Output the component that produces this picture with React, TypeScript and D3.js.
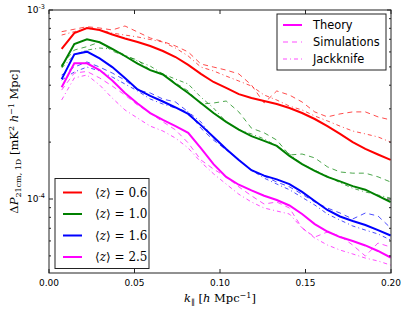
import React from 'react';
import * as d3 from 'd3';

// k_parallel bins [h/Mpc]
const kPar = [
  0.0074, 0.0148, 0.0222, 0.0296, 0.037, 0.0444, 0.0518, 0.0592, 0.0666,
  0.074, 0.0814, 0.0888, 0.0962, 0.1036, 0.111, 0.1184, 0.1258, 0.1332,
  0.1406, 0.148, 0.1554, 0.1628, 0.1702, 0.1776, 0.185, 0.1924, 0.1998,
];

// all values in units of 1e-4 mK^2 h^-1 Mpc
const theoryZ06 = [6.22, 7.55, 8.03, 7.84, 7.42, 7.07, 6.77, 6.45, 6.07, 5.64, 5.12, 4.59, 4.16, 3.87, 3.59, 3.42, 3.3, 3.18, 3.03, 2.85, 2.65, 2.43, 2.21, 2.0, 1.84, 1.72, 1.61];
const simZ06 = [7.68, 7.91, 8.16, 8.03, 7.84, 8.23, 7.65, 7.11, 6.81, 6.45, 6.0, 5.18, 4.99, 4.81, 4.59, 4.01, 3.22, 3.73, 3.55, 3.26, 2.89, 2.72, 2.82, 2.89, 2.89, 2.72, 2.62];
const jackZ06 = [7.37, 7.68, 8.0, 7.84, 7.55, 7.37, 7.2, 6.98, 6.77, 6.29, 5.71, 4.99, 4.76, 4.47, 4.21, 3.96, 3.55, 3.34, 3.1, 2.96, 2.75, 2.59, 2.43, 2.29, 2.21, 2.13, 2.0];

const theoryZ10 = [5.01, 6.61, 7.0, 6.75, 6.22, 5.71, 5.21, 4.81, 4.56, 4.06, 3.64, 3.22, 2.85, 2.56, 2.33, 2.15, 2.03, 1.91, 1.69, 1.53, 1.41, 1.31, 1.24, 1.17, 1.12, 1.04, 0.964];
const simZ10 = [5.12, 6.14, 6.4, 6.77, 6.07, 5.71, 5.44, 4.81, 4.59, 4.11, 3.73, 3.18, 3.22, 3.3, 2.89, 2.37, 2.24, 2.05, 1.71, 1.73, 1.65, 1.48, 1.39, 1.37, 1.37, 1.31, 1.23];
const jackZ10 = [4.93, 5.78, 6.14, 6.29, 6.22, 5.78, 5.37, 5.05, 4.59, 4.31, 4.06, 3.46, 3.03, 2.56, 2.32, 2.21, 2.08, 1.91, 1.73, 1.53, 1.42, 1.32, 1.22, 1.14, 1.09, 1.05, 1.01];

const theoryZ16 = [4.31, 5.83, 6.02, 5.54, 4.99, 4.37, 3.8, 3.51, 3.28, 3.05, 2.82, 2.46, 2.13, 1.84, 1.61, 1.42, 1.33, 1.27, 1.2, 1.09, 0.976, 0.875, 0.808, 0.765, 0.729, 0.685, 0.641];
const simZ16 = [4.53, 4.99, 5.31, 4.99, 4.64, 4.26, 3.77, 3.64, 3.38, 3.26, 2.89, 2.37, 2.05, 1.82, 1.61, 1.42, 1.32, 1.23, 1.16, 1.06, 0.964, 0.896, 0.843, 0.784, 0.843, 0.813, 0.703];
const jackZ16 = [4.26, 4.7, 4.99, 4.76, 4.42, 4.06, 3.73, 3.38, 3.18, 3.03, 2.89, 2.56, 2.1, 1.82, 1.61, 1.42, 1.29, 1.2, 1.12, 1.02, 0.93, 0.833, 0.774, 0.72, 0.685, 0.653, 0.607];

const theoryZ25 = [3.9, 5.22, 5.22, 4.81, 4.24, 3.64, 3.2, 2.85, 2.62, 2.43, 2.24, 1.86, 1.53, 1.31, 1.19, 1.11, 1.04, 0.988, 0.924, 0.833, 0.737, 0.673, 0.629, 0.6, 0.568, 0.531, 0.49];
const simZ25 = [3.77, 4.64, 4.73, 4.37, 3.96, 3.55, 3.14, 2.85, 2.56, 2.32, 1.98, 1.61, 1.44, 1.31, 1.16, 1.04, 0.941, 0.964, 0.896, 0.703, 0.629, 0.669, 0.637, 0.571, 0.499, 0.585, 0.557];
const jackZ25 = [3.34, 4.37, 4.53, 4.01, 3.42, 2.96, 2.68, 2.43, 2.29, 2.1, 1.86, 1.57, 1.36, 1.2, 1.06, 0.964, 0.896, 0.864, 0.833, 0.703, 0.622, 0.571, 0.537, 0.512, 0.487, 0.47, 0.447];

const zLabels = ['0.6', '1.0', '1.6', '2.5'];
const colors = ['#ff0000', '#008000', '#0000ff', '#ff00ff'];
const xTicks = [0, 0.05, 0.1, 0.15, 0.2];

const series = [
  { z: zLabels[0], color: colors[0], theory: theoryZ06, sim: simZ06, jack: jackZ06 },
  { z: zLabels[1], color: colors[1], theory: theoryZ10, sim: simZ10, jack: jackZ10 },
  { z: zLabels[2], color: colors[2], theory: theoryZ16, sim: simZ16, jack: jackZ16 },
  { z: zLabels[3], color: colors[3], theory: theoryZ25, sim: simZ25, jack: jackZ25 },
];

const W = 407;
const H = 314;
const plot = { left: 49, right: 391, top: 10, bottom: 273 };
const SANS = 'DejaVu Sans, sans-serif';
const SERIF = 'DejaVu Serif, serif';
const DASH = '5,4';
const DASHDOT = '4,3,1,3';

export default function App() {
  const x = d3.scaleLinear().domain([0, 0.2]).range([plot.left, plot.right]);
  const y = d3.scaleLog().domain([4.06e-5, 1e-3]).range([plot.bottom, plot.top]);

  const line = d3
    .line<number>()
    .x((_, i) => x(kPar[i]))
    .y((d) => y(d * 1e-4));

  const yTicks = y.ticks();
  const isMajor = (t: number) => Math.abs(Math.log10(t) - Math.round(Math.log10(t))) < 1e-6;

  return (
    <svg
      width={W}
      height={H}
      style={{ position: 'absolute', left: 0, top: 0, background: '#fff' }}
    >
      <defs>
        <clipPath id='plotClip'>
          <rect x={plot.left} y={plot.top} width={plot.right - plot.left} height={plot.bottom - plot.top} />
        </clipPath>
      </defs>
      <rect x={0} y={0} width={W} height={H} fill='#fff' />

      <g clipPath='url(#plotClip)' fill='none'>
        {series.map((s) => (
          <g key={s.z}>
            <path d={line(s.sim) || ''} stroke={s.color} strokeWidth={1} strokeOpacity={0.7} strokeDasharray={DASH} />
            <path d={line(s.jack) || ''} stroke={s.color} strokeWidth={1} strokeOpacity={0.7} strokeDasharray={DASHDOT} />
            <path d={line(s.theory) || ''} stroke={s.color} strokeWidth={2} />
          </g>
        ))}
      </g>

      {/* frame */}
      <rect
        x={plot.left}
        y={plot.top}
        width={plot.right - plot.left}
        height={plot.bottom - plot.top}
        fill='none'
        stroke='#222'
        strokeWidth={1}
      />

      {/* x ticks */}
      {xTicks.map((t) => (
        <g key={t}>
          <line x1={x(t)} x2={x(t)} y1={plot.bottom} y2={plot.bottom - 4} stroke='#222' />
          <line x1={x(t)} x2={x(t)} y1={plot.top} y2={plot.top + 4} stroke='#222' />
          <text x={x(t)} y={plot.bottom + 13} textAnchor='middle' fontFamily={SANS} fontSize={9}>
            {t.toFixed(2)}
          </text>
        </g>
      ))}

      {/* y ticks */}
      {yTicks.map((t) => {
        const len = isMajor(t) ? 4 : 2;
        return (
          <g key={t}>
            <line x1={plot.left} x2={plot.left + len} y1={y(t)} y2={y(t)} stroke='#222' />
            <line x1={plot.right} x2={plot.right - len} y1={y(t)} y2={y(t)} stroke='#222' />
            {isMajor(t) && (
              <text x={plot.left - 4} y={y(t) + 3} textAnchor='end' fontFamily={SANS} fontSize={9}>
                10
                <tspan fontSize={6.5} dy={-4}>
                  {'-' + Math.round(-Math.log10(t))}
                </tspan>
              </text>
            )}
          </g>
        );
      })}

      {/* axis labels */}
      <text x={(plot.left + plot.right) / 2} y={302} textAnchor='middle' fontFamily={SERIF} fontSize={11.5}>
        <tspan fontStyle='italic'>k</tspan>
        <tspan fontSize={8} dy={3}>∥</tspan>
        <tspan dy={-3}> [</tspan>
        <tspan fontStyle='italic'>h</tspan>
        <tspan> Mpc</tspan>
        <tspan fontSize={8} dy={-4}>−1</tspan>
        <tspan dy={4}>]</tspan>
      </text>
      <text
        transform={`translate(18, ${(plot.top + plot.bottom) / 2}) rotate(-90)`}
        textAnchor='middle'
        fontFamily={SERIF}
        fontSize={11.5}
      >
        <tspan>Δ</tspan>
        <tspan fontStyle='italic'>P</tspan>
        <tspan fontSize={8} dy={3}>21cm, 1D</tspan>
        <tspan dy={-3}> [mK</tspan>
        <tspan fontSize={8} dy={-4}>2</tspan>
        <tspan dy={4}> </tspan>
        <tspan fontStyle='italic'>h</tspan>
        <tspan fontSize={8} dy={-4}>−1</tspan>
        <tspan dy={4}> Mpc]</tspan>
      </text>

      {/* legend: line styles */}
      <g>
        <rect x={277} y={14} width={109} height={56} fill='#fff' stroke='#222' strokeWidth={1} />
        {[
          { label: 'Theory', dash: undefined, w: 2, op: 1 },
          { label: 'Simulations', dash: DASH, w: 1, op: 0.7 },
          { label: 'Jackknife', dash: DASHDOT, w: 1, op: 0.7 },
        ].map((e, i) => {
          const ly = 25 + i * 17;
          return (
            <g key={e.label}>
              <line
                x1={283}
                x2={302}
                y1={ly}
                y2={ly}
                stroke={colors[3]}
                strokeWidth={e.w}
                strokeOpacity={e.op}
                strokeDasharray={e.dash}
              />
              <text x={313} y={ly + 4} fontFamily={SANS} fontSize={11.4}>
                {e.label}
              </text>
            </g>
          );
        })}
      </g>

      {/* legend: redshifts */}
      <g>
        <rect x={55} y={178.5} width={94} height={90} fill='#fff' stroke='#222' strokeWidth={1} />
        {series.map((s, i) => {
          const ly = 192.5 + i * 21.5;
          return (
            <g key={s.z}>
              <line x1={63} x2={82} y1={ly} y2={ly} stroke={s.color} strokeWidth={2} />
              <text x={95} y={ly + 4} fontFamily={SERIF} fontSize={12}>
                ⟨<tspan fontStyle='italic'>z</tspan>⟩ = {s.z}
              </text>
            </g>
          );
        })}
      </g>
    </svg>
  );
}
